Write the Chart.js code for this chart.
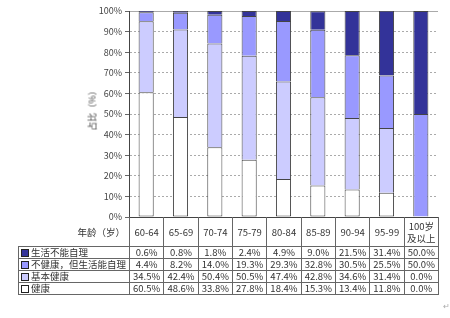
<!DOCTYPE html>
<html>
<head>
<meta charset="utf-8">
<script src="https://cdn.jsdelivr.net/npm/chart.js@4.4.0/dist/chart.umd.min.js"></script>
<style>
  body { margin: 0; background: #fff; font-family: "Noto Sans CJK SC", sans-serif; }
  #wrap { position: relative; width: 450px; height: 318px; }
  #ytitle { position: absolute; left: 62px; top: 102px; width: 60px; text-align: center;
            transform: rotate(-90deg); transform-origin: center; font-size: 9px; color: #444; }
  #tbl { position: absolute; border-collapse: collapse; font-size: 9.5px; color: #333; table-layout: fixed; }
  #tbl td { border: 1px solid #666; text-align: center; padding: 0; height: 11px; line-height: 11px; white-space: nowrap; overflow: hidden; }
  #tbl tr.head td { border-top: none; height: 29px; line-height: 12px; }
  #tbl tr.head td.corner { border: none; text-align: right; padding-right: 4px; }
  #tbl td.name { text-align: left; padding-left: 2px; font-size: 9.5px; }
  .sq { display: inline-block; width: 6px; height: 6px; border: 1px solid #222; margin-right: 2px; vertical-align: -1px; }
  #mark { position: absolute; left: 443px; top: 300px; font-size: 8px; color: #aaa; }
</style>
</head>
<body>
<div id="wrap">
  <canvas id="myChart" width="450" height="318"></canvas>
  <div id="ytitle">占比（%）</div>
  <table id="tbl"></table>
  <div id="mark">↵</div>
</div>
<script>
let ageGroups = ["60-64", "65-69", "70-74", "75-79", "80-84", "85-89", "90-94", "95-99", "100岁\n及以上"];
let healthy = [60.5, 48.6, 33.8, 27.8, 18.4, 15.3, 13.4, 11.8, 0.0];
let basic = [34.5, 42.4, 50.4, 50.5, 47.4, 42.8, 34.6, 31.4, 0.0];
let unhealthy = [4.4, 8.2, 14.0, 19.3, 29.3, 32.8, 30.5, 25.5, 50.0];
let dependent = [0.6, 0.8, 1.8, 2.4, 4.9, 9.0, 21.5, 31.4, 50.0];

let names = ["健康", "基本健康", "不健康，但生活能自理", "生活不能自理"];
let colors = ["#ffffff", "#ccccff", "#9999ff", "#333399"];
let series = [healthy, basic, unhealthy, dependent];

let datasets = [];
for (let i = 0; i < series.length; i++) {
  datasets.push({
    label: names[i],
    data: series[i],
    backgroundColor: colors[i],
    borderColor: "#444",
    // one line per boundary, not two
    borderWidth: { top: 1, left: 1, right: 1, bottom: i === 0 ? 1 : 0 },
    borderSkipped: false,
    barPercentage: 0.44,
    categoryPercentage: 1
  });
}

let ctx = document.getElementById("myChart").getContext("2d");
let barChart = new Chart(ctx, {
  type: "bar",
  data: { labels: ageGroups, datasets: datasets },
  options: {
    responsive: false,
    animation: false,
    layout: { padding: { top: 11, right: 12, bottom: 101, left: 0 } },
    plugins: { legend: { display: false }, tooltip: { enabled: false } },
    scales: {
      x: {
        stacked: true,
        ticks: { display: false },
        grid: { display: false },
        border: { display: true, color: "#444" },
        afterFit: (scale) => { scale.height = 0; }
      },
      y: {
        stacked: true,
        min: 0,
        max: 100,
        ticks: {
          stepSize: 10,
          color: "#444",
          font: { family: "Noto Sans CJK SC", size: 9 },
          padding: 3,
          callback: (v) => v + "%"
        },
        grid: { color: "#aaa", tickLength: 4, tickColor: "#666" },
        border: {
          display: true,
          color: "#444",
          dash: (c) => (c.tick && c.tick.value === 100 ? [] : [2, 2])
        },
        afterFit: (scale) => { scale.width = 129; }
      }
    }
  }
});

// table under the chart, columns follow the category scale
let area = barChart.chartArea;
let colW = (area.right - area.left) / ageGroups.length;
let tbl = document.getElementById("tbl");
tbl.style.left = "18px";
tbl.style.top = area.bottom + "px";
tbl.style.width = (area.right - 18) + "px";

let html = "<colgroup><col style='width:" + (area.left - 18) + "px'>";
for (let i = 0; i < ageGroups.length; i++) html += "<col style='width:" + colW + "px'>";
html += "</colgroup>";
html += "<tr class='head'><td class='corner'>年龄（岁）</td>";
for (let i = 0; i < ageGroups.length; i++) html += "<td>" + ageGroups[i].replace("\n", "<br>") + "</td>";
html += "</tr>";
for (let r = series.length - 1; r >= 0; r--) {
  html += "<tr><td class='name'><span class='sq' style='background:" + colors[r] + "'></span>" + names[r] + "</td>";
  for (let i = 0; i < ageGroups.length; i++) html += "<td>" + series[r][i].toFixed(1) + "%</td>";
  html += "</tr>";
}
tbl.innerHTML = html;
</script>
</body>
</html>
